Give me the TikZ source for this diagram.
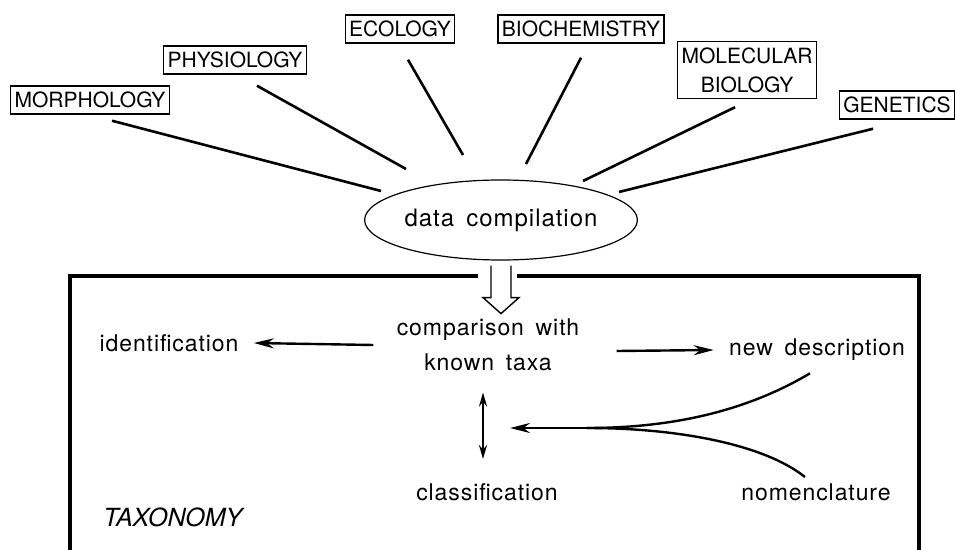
\documentclass[tikz,border=0pt]{standalone}
\usepackage{fontspec}
\setmainfont{TeX Gyre Heros}
\newfontfamily\spaced[LetterSpace=4,WordSpace=1.6]{TeX Gyre Heros}
\usetikzlibrary{arrows.meta,shapes.geometric}

\tikzset{
  field/.style={draw, line width=0.7pt, inner xsep=2pt, inner ysep=3pt,
    font=\fontsize{10.5}{14.5}\selectfont, align=center},
  spoke/.style={line width=1.3pt},
  lbl/.style={inner sep=0pt, font=\spaced\fontsize{11.5}{17.5}\selectfont, align=center},
  arr/.style={line width=1.2pt, -{Stealth[length=10pt,width=5pt]}},
  twoarr/.style={line width=1.2pt, {Stealth[length=7pt,width=4pt]}-{Stealth[length=7pt,width=4pt]}},
  curvy/.style={line width=1.2pt},
}

\begin{document}
\begin{tikzpicture}[x=0.5pt,y=-0.5pt]
  \path[use as bounding box, clip] (0,0) rectangle (956,550);
  \fill[white] (0,0) rectangle (956,550);

  % the fields feeding in
  \node[field] (morph) at (90,100)  {MORPHOLOGY};
  \node[field] (phys)  at (235,60)  {PHYSIOLOGY};
  \node[field] (eco)   at (400,29)  {ECOLOGY};
  \node[field] (bio)   at (581,29)  {BIOCHEMISTRY};
  \node[field] (mol)   at (747,70)  {MOLECULAR\\BIOLOGY};
  \node[field] (gen)   at (897,105) {GENETICS};

  \node[ellipse, draw, line width=0.6pt, minimum width=124pt, minimum height=40pt,
        inner sep=0pt, font=\spaced\fontsize{12}{14}\selectfont] (dc) at (501,220) {data compilation};

  \draw[spoke] ([shift={(22,6)}]morph.south) -- ([shift={(-120,-29)}]dc.center);
  \draw[spoke] ([shift={(22,11)}]phys.south) -- ([shift={(-95,-51)}]dc.center);
  \draw[spoke] ([shift={(8,16)}]eco.south)   -- ([shift={(-38,-65)}]dc.center);
  \draw[spoke] ([shift={(0,14)}]bio.south)   -- ([shift={(25,-56)}]dc.center);
  \draw[spoke] ([shift={(-12,8)}]mol.south)  -- ([shift={(82,-39)}]dc.center);
  \draw[spoke] ([shift={(-24,9)}]gen.south)  -- ([shift={(118,-28)}]dc.center);

  % taxonomy frame
  \draw[line width=1.8pt] (70,600) -- (70,276) -- (478,276);
  \draw[line width=1.8pt] (517,276) -- (919,276) -- (919,600);

  % hollow arrow into the frame
  \draw[line width=0.7pt, fill=white, shift={(dc.south)}]
    (-10,5) -- (-10,37) -- (-18,37) -- (0,53) -- (18,37) -- (10,37) -- (10,5);

  \node[lbl] (cmp)      at (488,345) {comparison with\\known taxa};
  \node[lbl] (ident)    at (169,343) {identification};
  \node[lbl] (newdesc)  at (817,350) {new description};
  \node[lbl] (classif)  at (487,492) {classification};
  \node[lbl] (nomen)    at (816,492) {nomenclature};
  \node[inner sep=0pt, anchor=west, font=\fontsize{12.5}{14}\selectfont\itshape]
    (taxo) at (103,517) {TAXONOMY};

  \coordinate (merge)  at (587,428);
  \coordinate (target) at (510,428);

  \draw[arr] ([shift={(-23,0)}]cmp.west) -- ([shift={(15,0)}]ident.east);
  \draw[arr] ([shift={(37,6)}]cmp.east) -- ([shift={(-15,0)}]newdesc.west);
  \draw[twoarr] ([shift={(-5,21)}]cmp.south) -- ([shift={(-4,-24)}]classif.north);

  \draw[curvy] ([shift={(-7,12)}]newdesc.south) .. controls (745,412) and (670,428) .. (merge);
  \draw[curvy] ([shift={(-11,-6)}]nomen.north) .. controls (765,445) and (680,428) .. (merge);
  \draw[arr] (merge) -- (target);
\end{tikzpicture}
\end{document}
